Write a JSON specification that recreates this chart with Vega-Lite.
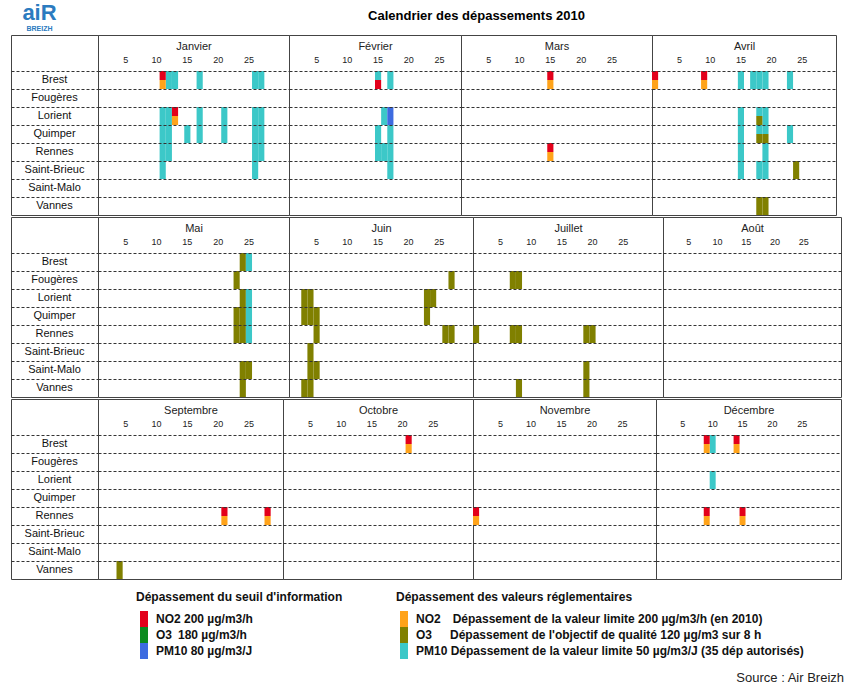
{
"$schema": "https://vega.github.io/schema/vega-lite/v6.json",
"background": "white",
"padding": {"left": 10, "top": 1, "right": 5, "bottom": 0},
"autosize": {"type": "pad"},
"title": {"text": "Calendrier des dépassements 2010", "anchor": "middle", "fontSize": 13, "fontWeight": "bold", "font": "Liberation Sans", "color": "#000", "offset": -21, "dx": 49},
"datasets": {
"cities": [{"c":"Brest"},{"c":"Fougères"},{"c":"Lorient"},{"c":"Quimper"},{"c":"Rennes"},{"c":"Saint-Brieuc"},{"c":"Saint-Malo"},{"c":"Vannes"}],
"cells": [
{"m":"Janvier","c":"Brest","d":11,"p":"NO2*","l":"info","h":"top"},
{"m":"Janvier","c":"Brest","d":11,"p":"NO2","l":"limite","h":"bottom"},
{"m":"Janvier","c":"Brest","d":12,"p":"PM10","l":"limite","h":"full"},
{"m":"Janvier","c":"Brest","d":13,"p":"PM10","l":"limite","h":"full"},
{"m":"Janvier","c":"Brest","d":17,"p":"PM10","l":"limite","h":"full"},
{"m":"Janvier","c":"Brest","d":26,"p":"PM10","l":"limite","h":"full"},
{"m":"Janvier","c":"Brest","d":27,"p":"PM10","l":"limite","h":"full"},
{"m":"Janvier","c":"Lorient","d":11,"p":"PM10","l":"limite","h":"full"},
{"m":"Janvier","c":"Lorient","d":12,"p":"PM10","l":"limite","h":"full"},
{"m":"Janvier","c":"Lorient","d":13,"p":"NO2*","l":"info","h":"top"},
{"m":"Janvier","c":"Lorient","d":13,"p":"NO2","l":"limite","h":"bottom"},
{"m":"Janvier","c":"Lorient","d":17,"p":"PM10","l":"limite","h":"full"},
{"m":"Janvier","c":"Lorient","d":21,"p":"PM10","l":"limite","h":"full"},
{"m":"Janvier","c":"Lorient","d":26,"p":"PM10","l":"limite","h":"full"},
{"m":"Janvier","c":"Lorient","d":27,"p":"PM10","l":"limite","h":"full"},
{"m":"Janvier","c":"Quimper","d":11,"p":"PM10","l":"limite","h":"full"},
{"m":"Janvier","c":"Quimper","d":12,"p":"PM10","l":"limite","h":"full"},
{"m":"Janvier","c":"Quimper","d":15,"p":"PM10","l":"limite","h":"full"},
{"m":"Janvier","c":"Quimper","d":17,"p":"PM10","l":"limite","h":"full"},
{"m":"Janvier","c":"Quimper","d":21,"p":"PM10","l":"limite","h":"full"},
{"m":"Janvier","c":"Quimper","d":26,"p":"PM10","l":"limite","h":"full"},
{"m":"Janvier","c":"Quimper","d":27,"p":"PM10","l":"limite","h":"full"},
{"m":"Janvier","c":"Rennes","d":11,"p":"PM10","l":"limite","h":"full"},
{"m":"Janvier","c":"Rennes","d":12,"p":"PM10","l":"limite","h":"full"},
{"m":"Janvier","c":"Rennes","d":26,"p":"PM10","l":"limite","h":"full"},
{"m":"Janvier","c":"Rennes","d":27,"p":"PM10","l":"limite","h":"full"},
{"m":"Janvier","c":"Saint-Brieuc","d":11,"p":"PM10","l":"limite","h":"full"},
{"m":"Janvier","c":"Saint-Brieuc","d":26,"p":"PM10","l":"limite","h":"full"},
{"m":"Février","c":"Brest","d":15,"p":"PM10","l":"limite","h":"top"},
{"m":"Février","c":"Brest","d":15,"p":"NO2*","l":"info","h":"bottom"},
{"m":"Février","c":"Brest","d":17,"p":"PM10","l":"limite","h":"full"},
{"m":"Février","c":"Lorient","d":16,"p":"PM10","l":"limite","h":"full"},
{"m":"Février","c":"Lorient","d":17,"p":"PM10*","l":"info","h":"top"},
{"m":"Février","c":"Lorient","d":17,"p":"PM10*","l":"info","h":"bottom"},
{"m":"Février","c":"Quimper","d":15,"p":"PM10","l":"limite","h":"full"},
{"m":"Février","c":"Quimper","d":17,"p":"PM10","l":"limite","h":"full"},
{"m":"Février","c":"Rennes","d":15,"p":"PM10","l":"limite","h":"full"},
{"m":"Février","c":"Rennes","d":16,"p":"PM10","l":"limite","h":"full"},
{"m":"Février","c":"Rennes","d":17,"p":"PM10","l":"limite","h":"full"},
{"m":"Février","c":"Saint-Brieuc","d":17,"p":"PM10","l":"limite","h":"full"},
{"m":"Mars","c":"Brest","d":15,"p":"NO2*","l":"info","h":"top"},
{"m":"Mars","c":"Brest","d":15,"p":"NO2","l":"limite","h":"bottom"},
{"m":"Mars","c":"Rennes","d":15,"p":"NO2*","l":"info","h":"top"},
{"m":"Mars","c":"Rennes","d":15,"p":"NO2","l":"limite","h":"bottom"},
{"m":"Avril","c":"Brest","d":1,"p":"NO2*","l":"info","h":"top"},
{"m":"Avril","c":"Brest","d":1,"p":"NO2","l":"limite","h":"bottom"},
{"m":"Avril","c":"Brest","d":9,"p":"NO2*","l":"info","h":"top"},
{"m":"Avril","c":"Brest","d":9,"p":"NO2","l":"limite","h":"bottom"},
{"m":"Avril","c":"Brest","d":15,"p":"PM10","l":"limite","h":"full"},
{"m":"Avril","c":"Brest","d":17,"p":"PM10","l":"limite","h":"full"},
{"m":"Avril","c":"Brest","d":18,"p":"PM10","l":"limite","h":"full"},
{"m":"Avril","c":"Brest","d":19,"p":"PM10","l":"limite","h":"full"},
{"m":"Avril","c":"Brest","d":23,"p":"PM10","l":"limite","h":"full"},
{"m":"Avril","c":"Lorient","d":15,"p":"PM10","l":"limite","h":"full"},
{"m":"Avril","c":"Lorient","d":18,"p":"PM10","l":"limite","h":"top"},
{"m":"Avril","c":"Lorient","d":18,"p":"O3","l":"limite","h":"bottom"},
{"m":"Avril","c":"Lorient","d":19,"p":"PM10","l":"limite","h":"full"},
{"m":"Avril","c":"Quimper","d":15,"p":"PM10","l":"limite","h":"full"},
{"m":"Avril","c":"Quimper","d":18,"p":"PM10","l":"limite","h":"top"},
{"m":"Avril","c":"Quimper","d":18,"p":"O3","l":"limite","h":"bottom"},
{"m":"Avril","c":"Quimper","d":19,"p":"PM10","l":"limite","h":"top"},
{"m":"Avril","c":"Quimper","d":19,"p":"O3","l":"limite","h":"bottom"},
{"m":"Avril","c":"Quimper","d":23,"p":"PM10","l":"limite","h":"full"},
{"m":"Avril","c":"Rennes","d":15,"p":"PM10","l":"limite","h":"full"},
{"m":"Avril","c":"Rennes","d":19,"p":"PM10","l":"limite","h":"full"},
{"m":"Avril","c":"Saint-Brieuc","d":15,"p":"PM10","l":"limite","h":"full"},
{"m":"Avril","c":"Saint-Brieuc","d":18,"p":"PM10","l":"limite","h":"full"},
{"m":"Avril","c":"Saint-Brieuc","d":19,"p":"PM10","l":"limite","h":"full"},
{"m":"Avril","c":"Saint-Brieuc","d":24,"p":"O3","l":"limite","h":"full"},
{"m":"Avril","c":"Vannes","d":18,"p":"O3","l":"limite","h":"full"},
{"m":"Avril","c":"Vannes","d":19,"p":"O3","l":"limite","h":"full"},
{"m":"Mai","c":"Brest","d":24,"p":"O3","l":"limite","h":"full"},
{"m":"Mai","c":"Brest","d":25,"p":"PM10","l":"limite","h":"full"},
{"m":"Mai","c":"Fougères","d":23,"p":"O3","l":"limite","h":"full"},
{"m":"Mai","c":"Lorient","d":24,"p":"O3","l":"limite","h":"full"},
{"m":"Mai","c":"Lorient","d":25,"p":"PM10","l":"limite","h":"full"},
{"m":"Mai","c":"Quimper","d":23,"p":"O3","l":"limite","h":"full"},
{"m":"Mai","c":"Quimper","d":24,"p":"O3","l":"limite","h":"full"},
{"m":"Mai","c":"Quimper","d":25,"p":"PM10","l":"limite","h":"full"},
{"m":"Mai","c":"Rennes","d":23,"p":"O3","l":"limite","h":"full"},
{"m":"Mai","c":"Rennes","d":24,"p":"O3","l":"limite","h":"full"},
{"m":"Mai","c":"Rennes","d":25,"p":"PM10","l":"limite","h":"full"},
{"m":"Mai","c":"Saint-Malo","d":24,"p":"O3","l":"limite","h":"full"},
{"m":"Mai","c":"Saint-Malo","d":25,"p":"O3","l":"limite","h":"full"},
{"m":"Mai","c":"Vannes","d":24,"p":"O3","l":"limite","h":"full"},
{"m":"Juin","c":"Fougères","d":27,"p":"O3","l":"limite","h":"full"},
{"m":"Juin","c":"Lorient","d":3,"p":"O3","l":"limite","h":"full"},
{"m":"Juin","c":"Lorient","d":4,"p":"O3","l":"limite","h":"full"},
{"m":"Juin","c":"Lorient","d":23,"p":"O3","l":"limite","h":"full"},
{"m":"Juin","c":"Lorient","d":24,"p":"O3","l":"limite","h":"full"},
{"m":"Juin","c":"Quimper","d":3,"p":"O3","l":"limite","h":"full"},
{"m":"Juin","c":"Quimper","d":4,"p":"O3","l":"limite","h":"full"},
{"m":"Juin","c":"Quimper","d":5,"p":"O3","l":"limite","h":"full"},
{"m":"Juin","c":"Quimper","d":23,"p":"O3","l":"limite","h":"full"},
{"m":"Juin","c":"Rennes","d":5,"p":"O3","l":"limite","h":"full"},
{"m":"Juin","c":"Rennes","d":26,"p":"O3","l":"limite","h":"full"},
{"m":"Juin","c":"Rennes","d":27,"p":"O3","l":"limite","h":"full"},
{"m":"Juin","c":"Saint-Brieuc","d":4,"p":"O3","l":"limite","h":"full"},
{"m":"Juin","c":"Saint-Malo","d":4,"p":"O3","l":"limite","h":"full"},
{"m":"Juin","c":"Saint-Malo","d":5,"p":"O3","l":"limite","h":"full"},
{"m":"Juin","c":"Vannes","d":3,"p":"O3","l":"limite","h":"full"},
{"m":"Juin","c":"Vannes","d":4,"p":"O3","l":"limite","h":"full"},
{"m":"Juillet","c":"Fougères","d":7,"p":"O3","l":"limite","h":"full"},
{"m":"Juillet","c":"Fougères","d":8,"p":"O3","l":"limite","h":"full"},
{"m":"Juillet","c":"Rennes","d":1,"p":"O3","l":"limite","h":"full"},
{"m":"Juillet","c":"Rennes","d":7,"p":"O3","l":"limite","h":"full"},
{"m":"Juillet","c":"Rennes","d":8,"p":"O3","l":"limite","h":"full"},
{"m":"Juillet","c":"Rennes","d":19,"p":"O3","l":"limite","h":"full"},
{"m":"Juillet","c":"Rennes","d":20,"p":"O3","l":"limite","h":"full"},
{"m":"Juillet","c":"Saint-Malo","d":19,"p":"O3","l":"limite","h":"full"},
{"m":"Juillet","c":"Vannes","d":8,"p":"O3","l":"limite","h":"full"},
{"m":"Juillet","c":"Vannes","d":19,"p":"O3","l":"limite","h":"full"},
{"m":"Septembre","c":"Rennes","d":21,"p":"NO2*","l":"info","h":"top"},
{"m":"Septembre","c":"Rennes","d":21,"p":"NO2","l":"limite","h":"bottom"},
{"m":"Septembre","c":"Rennes","d":28,"p":"NO2*","l":"info","h":"top"},
{"m":"Septembre","c":"Rennes","d":28,"p":"NO2","l":"limite","h":"bottom"},
{"m":"Septembre","c":"Vannes","d":4,"p":"O3","l":"limite","h":"full"},
{"m":"Octobre","c":"Brest","d":21,"p":"NO2*","l":"info","h":"top"},
{"m":"Octobre","c":"Brest","d":21,"p":"NO2","l":"limite","h":"bottom"},
{"m":"Novembre","c":"Rennes","d":1,"p":"NO2*","l":"info","h":"top"},
{"m":"Novembre","c":"Rennes","d":1,"p":"NO2","l":"limite","h":"bottom"},
{"m":"Décembre","c":"Brest","d":9,"p":"NO2*","l":"info","h":"top"},
{"m":"Décembre","c":"Brest","d":9,"p":"NO2","l":"limite","h":"bottom"},
{"m":"Décembre","c":"Brest","d":10,"p":"PM10","l":"limite","h":"full"},
{"m":"Décembre","c":"Brest","d":14,"p":"NO2*","l":"info","h":"top"},
{"m":"Décembre","c":"Brest","d":14,"p":"NO2","l":"limite","h":"bottom"},
{"m":"Décembre","c":"Lorient","d":10,"p":"PM10","l":"limite","h":"full"},
{"m":"Décembre","c":"Rennes","d":9,"p":"NO2*","l":"info","h":"top"},
{"m":"Décembre","c":"Rennes","d":9,"p":"NO2","l":"limite","h":"bottom"},
{"m":"Décembre","c":"Rennes","d":15,"p":"NO2*","l":"info","h":"top"},
{"m":"Décembre","c":"Rennes","d":15,"p":"NO2","l":"limite","h":"bottom"}
]
},
"spacing": 0,
"vconcat": [
{"hconcat": [
 {"width": 87, "height": 180, "data": {"name": "cities"},
  "title": {"text": "aiR", "subtitle": "BREIZH", "anchor": "middle", "frame": "group", "fontSize": 22, "fontWeight": "bold", "font": "Liberation Sans", "color": "#2B7BC0", "subtitleFontSize": 7, "subtitleColor": "#2B7BC0", "subtitleFont": "Liberation Sans", "subtitleFontWeight": "bold", "subtitlePadding": 0, "offset": 2, "dx": -15},
  "mark": {"type": "text", "fontSize": 11, "font": "Liberation Sans", "color": "#111"},
  "encoding": {
   "y": {"field": "c", "type": "nominal", "scale": {"type": "band", "domain": ["h1","h2","Brest","Fougères","Lorient","Quimper","Rennes","Saint-Brieuc","Saint-Malo","Vannes"], "paddingInner": 0, "paddingOuter": 0}, "axis": {"orient": "left", "values": ["Brest","Fougères","Lorient","Quimper","Rennes","Saint-Brieuc","Saint-Malo","Vannes"], "bandPosition": 0, "grid": true, "gridDash": [3,2], "gridColor": "#333", "gridWidth": 1, "labels": false, "ticks": false, "domain": false, "title": null, "zindex": 1}},
   "text": {"field": "c"}
  }},
 {"width": 191, "height": 180, "data": {"name": "cells"}, "transform": [{"filter": "datum.m == 'Janvier'"}],
  "encoding": {
   "x": {"field": "d", "type": "ordinal", "scale": {"type": "band", "domain": [1,2,3,4,5,6,7,8,9,10,11,12,13,14,15,16,17,18,19,20,21,22,23,24,25,26,27,28,29,30,31], "paddingInner": 0, "paddingOuter": 0}, "axis": {"orient": "top", "offset": -36, "values": [5,10,15,20,25], "labelAngle": 0, "labelFontSize": 9, "labelPadding": 7, "domain": false, "ticks": false, "tickSize": 0, "grid": false, "title": "Janvier", "titleFontSize": 11, "titleFontWeight": "normal", "titlePadding": 4}},
   "y": {"field": "c", "type": "nominal", "scale": {"type": "band", "domain": ["h1","h2","Brest","Fougères","Lorient","Quimper","Rennes","Saint-Brieuc","Saint-Malo","Vannes"], "paddingInner": 0, "paddingOuter": 0}, "axis": {"orient": "left", "values": ["Brest","Fougères","Lorient","Quimper","Rennes","Saint-Brieuc","Saint-Malo","Vannes"], "bandPosition": 0, "grid": true, "gridDash": [3,2], "gridColor": "#333", "gridWidth": 1, "labels": false, "ticks": false, "domain": false, "title": null, "zindex": 1}}
  },
  "layer": [
   {"transform": [{"filter": "datum.h == 'full'"}], "mark": "rect", "encoding": {"fill": {"field": "p", "type": "nominal", "scale": {"domain": ["NO2","O3","PM10"], "range": ["#FFA31A","#808000","#3CC8C8"]}, "legend": {"title": "Dépassement des valeurs réglementaires", "orient": "none", "legendX": 385, "legendY": 557, "direction": "vertical", "symbolType": "M-0.5,-1V1H0.5V-1Z", "symbolSize": 256, "symbolStrokeWidth": 0, "labelExpr": "datum.label == 'NO2' ? 'NO2\u2002\u2002Dépassement de la valeur limite 200 µg/m3/h (en 2010)' : datum.label == 'O3' ? \"O3\u2002\u2002\u2002Dépassement de l'objectif de qualité 120 µg/m3 sur 8 h\" : 'PM10 Dépassement de la valeur limite 50 µg/m3/J (35 dép autorisés)'"}}}},
   {"transform": [{"filter": "datum.h != 'full' && datum.l == 'limite'"}], "mark": "rect", "encoding": {"yOffset": {"field": "h", "type": "nominal", "scale": {"domain": ["top","bottom"], "paddingInner": 0, "paddingOuter": 0}}, "fill": {"field": "p", "type": "nominal", "scale": {"domain": ["NO2","O3","PM10"], "range": ["#FFA31A","#808000","#3CC8C8"]}, "legend": {"title": "Dépassement des valeurs réglementaires", "orient": "none", "legendX": 385, "legendY": 557, "direction": "vertical", "symbolType": "M-0.5,-1V1H0.5V-1Z", "symbolSize": 256, "symbolStrokeWidth": 0, "labelExpr": "datum.label == 'NO2' ? 'NO2\u2002\u2002Dépassement de la valeur limite 200 µg/m3/h (en 2010)' : datum.label == 'O3' ? \"O3\u2002\u2002\u2002Dépassement de l'objectif de qualité 120 µg/m3 sur 8 h\" : 'PM10 Dépassement de la valeur limite 50 µg/m3/J (35 dép autorisés)'"}}}},
   {"transform": [{"filter": "datum.h != 'full' && datum.l == 'info'"}], "mark": "rect", "encoding": {"yOffset": {"field": "h", "type": "nominal", "scale": {"domain": ["top","bottom"], "paddingInner": 0, "paddingOuter": 0}}, "color": {"field": "p", "type": "nominal", "scale": {"domain": ["NO2*","O3*","PM10*"], "range": ["#E3001B","#0B8A1F","#3D6BE0"]}, "legend": {"title": "Dépassement du seuil d'information", "orient": "none", "legendX": 125, "legendY": 557, "direction": "vertical", "symbolType": "M-0.5,-1V1H0.5V-1Z", "symbolSize": 256, "symbolStrokeWidth": 0, "labelExpr": "datum.label == 'NO2*' ? 'NO2 200 µg/m3/h' : datum.label == 'O3*' ? 'O3\u2002180 µg/m3/h' : 'PM10 80 µg/m3/J'"}}}}
  ]},
 {"width": 172, "height": 180, "data": {"name": "cells"}, "transform": [{"filter": "datum.m == 'Février'"}],
  "encoding": {
   "x": {"field": "d", "type": "ordinal", "scale": {"type": "band", "domain": [1,2,3,4,5,6,7,8,9,10,11,12,13,14,15,16,17,18,19,20,21,22,23,24,25,26,27,28], "paddingInner": 0, "paddingOuter": 0}, "axis": {"orient": "top", "offset": -36, "values": [5,10,15,20,25], "labelAngle": 0, "labelFontSize": 9, "labelPadding": 7, "domain": false, "ticks": false, "tickSize": 0, "grid": false, "title": "Février", "titleFontSize": 11, "titleFontWeight": "normal", "titlePadding": 4}},
   "y": {"field": "c", "type": "nominal", "scale": {"type": "band", "domain": ["h1","h2","Brest","Fougères","Lorient","Quimper","Rennes","Saint-Brieuc","Saint-Malo","Vannes"], "paddingInner": 0, "paddingOuter": 0}, "axis": {"orient": "left", "values": ["Brest","Fougères","Lorient","Quimper","Rennes","Saint-Brieuc","Saint-Malo","Vannes"], "bandPosition": 0, "grid": true, "gridDash": [3,2], "gridColor": "#333", "gridWidth": 1, "labels": false, "ticks": false, "domain": false, "title": null, "zindex": 1}}
  },
  "layer": [
   {"transform": [{"filter": "datum.h == 'full'"}], "mark": "rect", "encoding": {"fill": {"field": "p", "type": "nominal", "scale": {"domain": ["NO2","O3","PM10"], "range": ["#FFA31A","#808000","#3CC8C8"]}, "legend": {"title": "Dépassement des valeurs réglementaires", "orient": "none", "legendX": 385, "legendY": 557, "direction": "vertical", "symbolType": "M-0.5,-1V1H0.5V-1Z", "symbolSize": 256, "symbolStrokeWidth": 0, "labelExpr": "datum.label == 'NO2' ? 'NO2\u2002\u2002Dépassement de la valeur limite 200 µg/m3/h (en 2010)' : datum.label == 'O3' ? \"O3\u2002\u2002\u2002Dépassement de l'objectif de qualité 120 µg/m3 sur 8 h\" : 'PM10 Dépassement de la valeur limite 50 µg/m3/J (35 dép autorisés)'"}}}},
   {"transform": [{"filter": "datum.h != 'full' && datum.l == 'limite'"}], "mark": "rect", "encoding": {"yOffset": {"field": "h", "type": "nominal", "scale": {"domain": ["top","bottom"], "paddingInner": 0, "paddingOuter": 0}}, "fill": {"field": "p", "type": "nominal", "scale": {"domain": ["NO2","O3","PM10"], "range": ["#FFA31A","#808000","#3CC8C8"]}, "legend": {"title": "Dépassement des valeurs réglementaires", "orient": "none", "legendX": 385, "legendY": 557, "direction": "vertical", "symbolType": "M-0.5,-1V1H0.5V-1Z", "symbolSize": 256, "symbolStrokeWidth": 0, "labelExpr": "datum.label == 'NO2' ? 'NO2\u2002\u2002Dépassement de la valeur limite 200 µg/m3/h (en 2010)' : datum.label == 'O3' ? \"O3\u2002\u2002\u2002Dépassement de l'objectif de qualité 120 µg/m3 sur 8 h\" : 'PM10 Dépassement de la valeur limite 50 µg/m3/J (35 dép autorisés)'"}}}},
   {"transform": [{"filter": "datum.h != 'full' && datum.l == 'info'"}], "mark": "rect", "encoding": {"yOffset": {"field": "h", "type": "nominal", "scale": {"domain": ["top","bottom"], "paddingInner": 0, "paddingOuter": 0}}, "color": {"field": "p", "type": "nominal", "scale": {"domain": ["NO2*","O3*","PM10*"], "range": ["#E3001B","#0B8A1F","#3D6BE0"]}, "legend": {"title": "Dépassement du seuil d'information", "orient": "none", "legendX": 125, "legendY": 557, "direction": "vertical", "symbolType": "M-0.5,-1V1H0.5V-1Z", "symbolSize": 256, "symbolStrokeWidth": 0, "labelExpr": "datum.label == 'NO2*' ? 'NO2 200 µg/m3/h' : datum.label == 'O3*' ? 'O3\u2002180 µg/m3/h' : 'PM10 80 µg/m3/J'"}}}}
  ]},
 {"width": 191, "height": 180, "data": {"name": "cells"}, "transform": [{"filter": "datum.m == 'Mars'"}],
  "encoding": {
   "x": {"field": "d", "type": "ordinal", "scale": {"type": "band", "domain": [1,2,3,4,5,6,7,8,9,10,11,12,13,14,15,16,17,18,19,20,21,22,23,24,25,26,27,28,29,30,31], "paddingInner": 0, "paddingOuter": 0}, "axis": {"orient": "top", "offset": -36, "values": [5,10,15,20,25], "labelAngle": 0, "labelFontSize": 9, "labelPadding": 7, "domain": false, "ticks": false, "tickSize": 0, "grid": false, "title": "Mars", "titleFontSize": 11, "titleFontWeight": "normal", "titlePadding": 4}},
   "y": {"field": "c", "type": "nominal", "scale": {"type": "band", "domain": ["h1","h2","Brest","Fougères","Lorient","Quimper","Rennes","Saint-Brieuc","Saint-Malo","Vannes"], "paddingInner": 0, "paddingOuter": 0}, "axis": {"orient": "left", "values": ["Brest","Fougères","Lorient","Quimper","Rennes","Saint-Brieuc","Saint-Malo","Vannes"], "bandPosition": 0, "grid": true, "gridDash": [3,2], "gridColor": "#333", "gridWidth": 1, "labels": false, "ticks": false, "domain": false, "title": null, "zindex": 1}}
  },
  "layer": [
   {"transform": [{"filter": "datum.h != 'full' && datum.l == 'limite'"}], "mark": "rect", "encoding": {"yOffset": {"field": "h", "type": "nominal", "scale": {"domain": ["top","bottom"], "paddingInner": 0, "paddingOuter": 0}}, "fill": {"field": "p", "type": "nominal", "scale": {"domain": ["NO2","O3","PM10"], "range": ["#FFA31A","#808000","#3CC8C8"]}, "legend": {"title": "Dépassement des valeurs réglementaires", "orient": "none", "legendX": 385, "legendY": 557, "direction": "vertical", "symbolType": "M-0.5,-1V1H0.5V-1Z", "symbolSize": 256, "symbolStrokeWidth": 0, "labelExpr": "datum.label == 'NO2' ? 'NO2\u2002\u2002Dépassement de la valeur limite 200 µg/m3/h (en 2010)' : datum.label == 'O3' ? \"O3\u2002\u2002\u2002Dépassement de l'objectif de qualité 120 µg/m3 sur 8 h\" : 'PM10 Dépassement de la valeur limite 50 µg/m3/J (35 dép autorisés)'"}}}},
   {"transform": [{"filter": "datum.h != 'full' && datum.l == 'info'"}], "mark": "rect", "encoding": {"yOffset": {"field": "h", "type": "nominal", "scale": {"domain": ["top","bottom"], "paddingInner": 0, "paddingOuter": 0}}, "color": {"field": "p", "type": "nominal", "scale": {"domain": ["NO2*","O3*","PM10*"], "range": ["#E3001B","#0B8A1F","#3D6BE0"]}, "legend": {"title": "Dépassement du seuil d'information", "orient": "none", "legendX": 125, "legendY": 557, "direction": "vertical", "symbolType": "M-0.5,-1V1H0.5V-1Z", "symbolSize": 256, "symbolStrokeWidth": 0, "labelExpr": "datum.label == 'NO2*' ? 'NO2 200 µg/m3/h' : datum.label == 'O3*' ? 'O3\u2002180 µg/m3/h' : 'PM10 80 µg/m3/J'"}}}}
  ]},
 {"width": 184, "height": 180, "data": {"name": "cells"}, "transform": [{"filter": "datum.m == 'Avril'"}],
  "encoding": {
   "x": {"field": "d", "type": "ordinal", "scale": {"type": "band", "domain": [1,2,3,4,5,6,7,8,9,10,11,12,13,14,15,16,17,18,19,20,21,22,23,24,25,26,27,28,29,30], "paddingInner": 0, "paddingOuter": 0}, "axis": {"orient": "top", "offset": -36, "values": [5,10,15,20,25], "labelAngle": 0, "labelFontSize": 9, "labelPadding": 7, "domain": false, "ticks": false, "tickSize": 0, "grid": false, "title": "Avril", "titleFontSize": 11, "titleFontWeight": "normal", "titlePadding": 4}},
   "y": {"field": "c", "type": "nominal", "scale": {"type": "band", "domain": ["h1","h2","Brest","Fougères","Lorient","Quimper","Rennes","Saint-Brieuc","Saint-Malo","Vannes"], "paddingInner": 0, "paddingOuter": 0}, "axis": {"orient": "left", "values": ["Brest","Fougères","Lorient","Quimper","Rennes","Saint-Brieuc","Saint-Malo","Vannes"], "bandPosition": 0, "grid": true, "gridDash": [3,2], "gridColor": "#333", "gridWidth": 1, "labels": false, "ticks": false, "domain": false, "title": null, "zindex": 1}}
  },
  "layer": [
   {"transform": [{"filter": "datum.h == 'full'"}], "mark": "rect", "encoding": {"fill": {"field": "p", "type": "nominal", "scale": {"domain": ["NO2","O3","PM10"], "range": ["#FFA31A","#808000","#3CC8C8"]}, "legend": {"title": "Dépassement des valeurs réglementaires", "orient": "none", "legendX": 385, "legendY": 557, "direction": "vertical", "symbolType": "M-0.5,-1V1H0.5V-1Z", "symbolSize": 256, "symbolStrokeWidth": 0, "labelExpr": "datum.label == 'NO2' ? 'NO2\u2002\u2002Dépassement de la valeur limite 200 µg/m3/h (en 2010)' : datum.label == 'O3' ? \"O3\u2002\u2002\u2002Dépassement de l'objectif de qualité 120 µg/m3 sur 8 h\" : 'PM10 Dépassement de la valeur limite 50 µg/m3/J (35 dép autorisés)'"}}}},
   {"transform": [{"filter": "datum.h != 'full' && datum.l == 'limite'"}], "mark": "rect", "encoding": {"yOffset": {"field": "h", "type": "nominal", "scale": {"domain": ["top","bottom"], "paddingInner": 0, "paddingOuter": 0}}, "fill": {"field": "p", "type": "nominal", "scale": {"domain": ["NO2","O3","PM10"], "range": ["#FFA31A","#808000","#3CC8C8"]}, "legend": {"title": "Dépassement des valeurs réglementaires", "orient": "none", "legendX": 385, "legendY": 557, "direction": "vertical", "symbolType": "M-0.5,-1V1H0.5V-1Z", "symbolSize": 256, "symbolStrokeWidth": 0, "labelExpr": "datum.label == 'NO2' ? 'NO2\u2002\u2002Dépassement de la valeur limite 200 µg/m3/h (en 2010)' : datum.label == 'O3' ? \"O3\u2002\u2002\u2002Dépassement de l'objectif de qualité 120 µg/m3 sur 8 h\" : 'PM10 Dépassement de la valeur limite 50 µg/m3/J (35 dép autorisés)'"}}}},
   {"transform": [{"filter": "datum.h != 'full' && datum.l == 'info'"}], "mark": "rect", "encoding": {"yOffset": {"field": "h", "type": "nominal", "scale": {"domain": ["top","bottom"], "paddingInner": 0, "paddingOuter": 0}}, "color": {"field": "p", "type": "nominal", "scale": {"domain": ["NO2*","O3*","PM10*"], "range": ["#E3001B","#0B8A1F","#3D6BE0"]}, "legend": {"title": "Dépassement du seuil d'information", "orient": "none", "legendX": 125, "legendY": 557, "direction": "vertical", "symbolType": "M-0.5,-1V1H0.5V-1Z", "symbolSize": 256, "symbolStrokeWidth": 0, "labelExpr": "datum.label == 'NO2*' ? 'NO2 200 µg/m3/h' : datum.label == 'O3*' ? 'O3\u2002180 µg/m3/h' : 'PM10 80 µg/m3/J'"}}}}
  ]}
], "spacing": 0, "bounds": "flush"},
{"hconcat": [
 {"width": 87, "height": 180, "data": {"name": "cities"},
  "mark": {"type": "text", "fontSize": 11, "font": "Liberation Sans", "color": "#111"},
  "encoding": {
   "y": {"field": "c", "type": "nominal", "scale": {"type": "band", "domain": ["h1","h2","Brest","Fougères","Lorient","Quimper","Rennes","Saint-Brieuc","Saint-Malo","Vannes"], "paddingInner": 0, "paddingOuter": 0}, "axis": {"orient": "left", "values": ["Brest","Fougères","Lorient","Quimper","Rennes","Saint-Brieuc","Saint-Malo","Vannes"], "bandPosition": 0, "grid": true, "gridDash": [3,2], "gridColor": "#333", "gridWidth": 1, "labels": false, "ticks": false, "domain": false, "title": null, "zindex": 1}},
   "text": {"field": "c"}
  }},
 {"width": 191, "height": 180, "data": {"name": "cells"}, "transform": [{"filter": "datum.m == 'Mai'"}],
  "encoding": {
   "x": {"field": "d", "type": "ordinal", "scale": {"type": "band", "domain": [1,2,3,4,5,6,7,8,9,10,11,12,13,14,15,16,17,18,19,20,21,22,23,24,25,26,27,28,29,30,31], "paddingInner": 0, "paddingOuter": 0}, "axis": {"orient": "top", "offset": -36, "values": [5,10,15,20,25], "labelAngle": 0, "labelFontSize": 9, "labelPadding": 7, "domain": false, "ticks": false, "tickSize": 0, "grid": false, "title": "Mai", "titleFontSize": 11, "titleFontWeight": "normal", "titlePadding": 4}},
   "y": {"field": "c", "type": "nominal", "scale": {"type": "band", "domain": ["h1","h2","Brest","Fougères","Lorient","Quimper","Rennes","Saint-Brieuc","Saint-Malo","Vannes"], "paddingInner": 0, "paddingOuter": 0}, "axis": {"orient": "left", "values": ["Brest","Fougères","Lorient","Quimper","Rennes","Saint-Brieuc","Saint-Malo","Vannes"], "bandPosition": 0, "grid": true, "gridDash": [3,2], "gridColor": "#333", "gridWidth": 1, "labels": false, "ticks": false, "domain": false, "title": null, "zindex": 1}}
  },
  "layer": [
   {"transform": [{"filter": "datum.h == 'full'"}], "mark": "rect", "encoding": {"fill": {"field": "p", "type": "nominal", "scale": {"domain": ["NO2","O3","PM10"], "range": ["#FFA31A","#808000","#3CC8C8"]}, "legend": {"title": "Dépassement des valeurs réglementaires", "orient": "none", "legendX": 385, "legendY": 557, "direction": "vertical", "symbolType": "M-0.5,-1V1H0.5V-1Z", "symbolSize": 256, "symbolStrokeWidth": 0, "labelExpr": "datum.label == 'NO2' ? 'NO2\u2002\u2002Dépassement de la valeur limite 200 µg/m3/h (en 2010)' : datum.label == 'O3' ? \"O3\u2002\u2002\u2002Dépassement de l'objectif de qualité 120 µg/m3 sur 8 h\" : 'PM10 Dépassement de la valeur limite 50 µg/m3/J (35 dép autorisés)'"}}}}
  ]},
 {"width": 184, "height": 180, "data": {"name": "cells"}, "transform": [{"filter": "datum.m == 'Juin'"}],
  "encoding": {
   "x": {"field": "d", "type": "ordinal", "scale": {"type": "band", "domain": [1,2,3,4,5,6,7,8,9,10,11,12,13,14,15,16,17,18,19,20,21,22,23,24,25,26,27,28,29,30], "paddingInner": 0, "paddingOuter": 0}, "axis": {"orient": "top", "offset": -36, "values": [5,10,15,20,25], "labelAngle": 0, "labelFontSize": 9, "labelPadding": 7, "domain": false, "ticks": false, "tickSize": 0, "grid": false, "title": "Juin", "titleFontSize": 11, "titleFontWeight": "normal", "titlePadding": 4}},
   "y": {"field": "c", "type": "nominal", "scale": {"type": "band", "domain": ["h1","h2","Brest","Fougères","Lorient","Quimper","Rennes","Saint-Brieuc","Saint-Malo","Vannes"], "paddingInner": 0, "paddingOuter": 0}, "axis": {"orient": "left", "values": ["Brest","Fougères","Lorient","Quimper","Rennes","Saint-Brieuc","Saint-Malo","Vannes"], "bandPosition": 0, "grid": true, "gridDash": [3,2], "gridColor": "#333", "gridWidth": 1, "labels": false, "ticks": false, "domain": false, "title": null, "zindex": 1}}
  },
  "layer": [
   {"transform": [{"filter": "datum.h == 'full'"}], "mark": "rect", "encoding": {"fill": {"field": "p", "type": "nominal", "scale": {"domain": ["NO2","O3","PM10"], "range": ["#FFA31A","#808000","#3CC8C8"]}, "legend": {"title": "Dépassement des valeurs réglementaires", "orient": "none", "legendX": 385, "legendY": 557, "direction": "vertical", "symbolType": "M-0.5,-1V1H0.5V-1Z", "symbolSize": 256, "symbolStrokeWidth": 0, "labelExpr": "datum.label == 'NO2' ? 'NO2\u2002\u2002Dépassement de la valeur limite 200 µg/m3/h (en 2010)' : datum.label == 'O3' ? \"O3\u2002\u2002\u2002Dépassement de l'objectif de qualité 120 µg/m3 sur 8 h\" : 'PM10 Dépassement de la valeur limite 50 µg/m3/J (35 dép autorisés)'"}}}}
  ]},
 {"width": 190, "height": 180, "data": {"name": "cells"}, "transform": [{"filter": "datum.m == 'Juillet'"}],
  "encoding": {
   "x": {"field": "d", "type": "ordinal", "scale": {"type": "band", "domain": [1,2,3,4,5,6,7,8,9,10,11,12,13,14,15,16,17,18,19,20,21,22,23,24,25,26,27,28,29,30,31], "paddingInner": 0, "paddingOuter": 0}, "axis": {"orient": "top", "offset": -36, "values": [5,10,15,20,25], "labelAngle": 0, "labelFontSize": 9, "labelPadding": 7, "domain": false, "ticks": false, "tickSize": 0, "grid": false, "title": "Juillet", "titleFontSize": 11, "titleFontWeight": "normal", "titlePadding": 4}},
   "y": {"field": "c", "type": "nominal", "scale": {"type": "band", "domain": ["h1","h2","Brest","Fougères","Lorient","Quimper","Rennes","Saint-Brieuc","Saint-Malo","Vannes"], "paddingInner": 0, "paddingOuter": 0}, "axis": {"orient": "left", "values": ["Brest","Fougères","Lorient","Quimper","Rennes","Saint-Brieuc","Saint-Malo","Vannes"], "bandPosition": 0, "grid": true, "gridDash": [3,2], "gridColor": "#333", "gridWidth": 1, "labels": false, "ticks": false, "domain": false, "title": null, "zindex": 1}}
  },
  "layer": [
   {"transform": [{"filter": "datum.h == 'full'"}], "mark": "rect", "encoding": {"fill": {"field": "p", "type": "nominal", "scale": {"domain": ["NO2","O3","PM10"], "range": ["#FFA31A","#808000","#3CC8C8"]}, "legend": {"title": "Dépassement des valeurs réglementaires", "orient": "none", "legendX": 385, "legendY": 557, "direction": "vertical", "symbolType": "M-0.5,-1V1H0.5V-1Z", "symbolSize": 256, "symbolStrokeWidth": 0, "labelExpr": "datum.label == 'NO2' ? 'NO2\u2002\u2002Dépassement de la valeur limite 200 µg/m3/h (en 2010)' : datum.label == 'O3' ? \"O3\u2002\u2002\u2002Dépassement de l'objectif de qualité 120 µg/m3 sur 8 h\" : 'PM10 Dépassement de la valeur limite 50 µg/m3/J (35 dép autorisés)'"}}}}
  ]},
 {"width": 178, "height": 180, "data": {"name": "cells"}, "transform": [{"filter": "datum.m == 'Août'"}],
  "encoding": {
   "x": {"field": "d", "type": "ordinal", "scale": {"type": "band", "domain": [1,2,3,4,5,6,7,8,9,10,11,12,13,14,15,16,17,18,19,20,21,22,23,24,25,26,27,28,29,30,31], "paddingInner": 0, "paddingOuter": 0}, "axis": {"orient": "top", "offset": -36, "values": [5,10,15,20,25], "labelAngle": 0, "labelFontSize": 9, "labelPadding": 7, "domain": false, "ticks": false, "tickSize": 0, "grid": false, "title": "Août", "titleFontSize": 11, "titleFontWeight": "normal", "titlePadding": 4}},
   "y": {"field": "c", "type": "nominal", "scale": {"type": "band", "domain": ["h1","h2","Brest","Fougères","Lorient","Quimper","Rennes","Saint-Brieuc","Saint-Malo","Vannes"], "paddingInner": 0, "paddingOuter": 0}, "axis": {"orient": "left", "values": ["Brest","Fougères","Lorient","Quimper","Rennes","Saint-Brieuc","Saint-Malo","Vannes"], "bandPosition": 0, "grid": true, "gridDash": [3,2], "gridColor": "#333", "gridWidth": 1, "labels": false, "ticks": false, "domain": false, "title": null, "zindex": 1}}
  },
  "layer": [
   {"transform": [{"filter": "datum.h == 'full'"}], "mark": "rect", "encoding": {"fill": {"field": "p", "type": "nominal", "scale": {"domain": ["NO2","O3","PM10"], "range": ["#FFA31A","#808000","#3CC8C8"]}, "legend": {"title": "Dépassement des valeurs réglementaires", "orient": "none", "legendX": 385, "legendY": 557, "direction": "vertical", "symbolType": "M-0.5,-1V1H0.5V-1Z", "symbolSize": 256, "symbolStrokeWidth": 0, "labelExpr": "datum.label == 'NO2' ? 'NO2\u2002\u2002Dépassement de la valeur limite 200 µg/m3/h (en 2010)' : datum.label == 'O3' ? \"O3\u2002\u2002\u2002Dépassement de l'objectif de qualité 120 µg/m3 sur 8 h\" : 'PM10 Dépassement de la valeur limite 50 µg/m3/J (35 dép autorisés)'"}}}}
  ]}
], "spacing": 0, "bounds": "flush"},
{"hconcat": [
 {"width": 87, "height": 180, "data": {"name": "cities"},
  "mark": {"type": "text", "fontSize": 11, "font": "Liberation Sans", "color": "#111"},
  "encoding": {
   "y": {"field": "c", "type": "nominal", "scale": {"type": "band", "domain": ["h1","h2","Brest","Fougères","Lorient","Quimper","Rennes","Saint-Brieuc","Saint-Malo","Vannes"], "paddingInner": 0, "paddingOuter": 0}, "axis": {"orient": "left", "values": ["Brest","Fougères","Lorient","Quimper","Rennes","Saint-Brieuc","Saint-Malo","Vannes"], "bandPosition": 0, "grid": true, "gridDash": [3,2], "gridColor": "#333", "gridWidth": 1, "labels": false, "ticks": false, "domain": false, "title": null, "zindex": 1}},
   "text": {"field": "c"}
  }},
 {"width": 185, "height": 180, "data": {"name": "cells"}, "transform": [{"filter": "datum.m == 'Septembre'"}],
  "encoding": {
   "x": {"field": "d", "type": "ordinal", "scale": {"type": "band", "domain": [1,2,3,4,5,6,7,8,9,10,11,12,13,14,15,16,17,18,19,20,21,22,23,24,25,26,27,28,29,30], "paddingInner": 0, "paddingOuter": 0}, "axis": {"orient": "top", "offset": -36, "values": [5,10,15,20,25], "labelAngle": 0, "labelFontSize": 9, "labelPadding": 7, "domain": false, "ticks": false, "tickSize": 0, "grid": false, "title": "Septembre", "titleFontSize": 11, "titleFontWeight": "normal", "titlePadding": 4}},
   "y": {"field": "c", "type": "nominal", "scale": {"type": "band", "domain": ["h1","h2","Brest","Fougères","Lorient","Quimper","Rennes","Saint-Brieuc","Saint-Malo","Vannes"], "paddingInner": 0, "paddingOuter": 0}, "axis": {"orient": "left", "values": ["Brest","Fougères","Lorient","Quimper","Rennes","Saint-Brieuc","Saint-Malo","Vannes"], "bandPosition": 0, "grid": true, "gridDash": [3,2], "gridColor": "#333", "gridWidth": 1, "labels": false, "ticks": false, "domain": false, "title": null, "zindex": 1}}
  },
  "layer": [
   {"transform": [{"filter": "datum.h == 'full'"}], "mark": "rect", "encoding": {"fill": {"field": "p", "type": "nominal", "scale": {"domain": ["NO2","O3","PM10"], "range": ["#FFA31A","#808000","#3CC8C8"]}, "legend": {"title": "Dépassement des valeurs réglementaires", "orient": "none", "legendX": 385, "legendY": 557, "direction": "vertical", "symbolType": "M-0.5,-1V1H0.5V-1Z", "symbolSize": 256, "symbolStrokeWidth": 0, "labelExpr": "datum.label == 'NO2' ? 'NO2\u2002\u2002Dépassement de la valeur limite 200 µg/m3/h (en 2010)' : datum.label == 'O3' ? \"O3\u2002\u2002\u2002Dépassement de l'objectif de qualité 120 µg/m3 sur 8 h\" : 'PM10 Dépassement de la valeur limite 50 µg/m3/J (35 dép autorisés)'"}}}},
   {"transform": [{"filter": "datum.h != 'full' && datum.l == 'limite'"}], "mark": "rect", "encoding": {"yOffset": {"field": "h", "type": "nominal", "scale": {"domain": ["top","bottom"], "paddingInner": 0, "paddingOuter": 0}}, "fill": {"field": "p", "type": "nominal", "scale": {"domain": ["NO2","O3","PM10"], "range": ["#FFA31A","#808000","#3CC8C8"]}, "legend": {"title": "Dépassement des valeurs réglementaires", "orient": "none", "legendX": 385, "legendY": 557, "direction": "vertical", "symbolType": "M-0.5,-1V1H0.5V-1Z", "symbolSize": 256, "symbolStrokeWidth": 0, "labelExpr": "datum.label == 'NO2' ? 'NO2\u2002\u2002Dépassement de la valeur limite 200 µg/m3/h (en 2010)' : datum.label == 'O3' ? \"O3\u2002\u2002\u2002Dépassement de l'objectif de qualité 120 µg/m3 sur 8 h\" : 'PM10 Dépassement de la valeur limite 50 µg/m3/J (35 dép autorisés)'"}}}},
   {"transform": [{"filter": "datum.h != 'full' && datum.l == 'info'"}], "mark": "rect", "encoding": {"yOffset": {"field": "h", "type": "nominal", "scale": {"domain": ["top","bottom"], "paddingInner": 0, "paddingOuter": 0}}, "color": {"field": "p", "type": "nominal", "scale": {"domain": ["NO2*","O3*","PM10*"], "range": ["#E3001B","#0B8A1F","#3D6BE0"]}, "legend": {"title": "Dépassement du seuil d'information", "orient": "none", "legendX": 125, "legendY": 557, "direction": "vertical", "symbolType": "M-0.5,-1V1H0.5V-1Z", "symbolSize": 256, "symbolStrokeWidth": 0, "labelExpr": "datum.label == 'NO2*' ? 'NO2 200 µg/m3/h' : datum.label == 'O3*' ? 'O3\u2002180 µg/m3/h' : 'PM10 80 µg/m3/J'"}}}}
  ]},
 {"width": 190, "height": 180, "data": {"name": "cells"}, "transform": [{"filter": "datum.m == 'Octobre'"}],
  "encoding": {
   "x": {"field": "d", "type": "ordinal", "scale": {"type": "band", "domain": [1,2,3,4,5,6,7,8,9,10,11,12,13,14,15,16,17,18,19,20,21,22,23,24,25,26,27,28,29,30,31], "paddingInner": 0, "paddingOuter": 0}, "axis": {"orient": "top", "offset": -36, "values": [5,10,15,20,25], "labelAngle": 0, "labelFontSize": 9, "labelPadding": 7, "domain": false, "ticks": false, "tickSize": 0, "grid": false, "title": "Octobre", "titleFontSize": 11, "titleFontWeight": "normal", "titlePadding": 4}},
   "y": {"field": "c", "type": "nominal", "scale": {"type": "band", "domain": ["h1","h2","Brest","Fougères","Lorient","Quimper","Rennes","Saint-Brieuc","Saint-Malo","Vannes"], "paddingInner": 0, "paddingOuter": 0}, "axis": {"orient": "left", "values": ["Brest","Fougères","Lorient","Quimper","Rennes","Saint-Brieuc","Saint-Malo","Vannes"], "bandPosition": 0, "grid": true, "gridDash": [3,2], "gridColor": "#333", "gridWidth": 1, "labels": false, "ticks": false, "domain": false, "title": null, "zindex": 1}}
  },
  "layer": [
   {"transform": [{"filter": "datum.h != 'full' && datum.l == 'limite'"}], "mark": "rect", "encoding": {"yOffset": {"field": "h", "type": "nominal", "scale": {"domain": ["top","bottom"], "paddingInner": 0, "paddingOuter": 0}}, "fill": {"field": "p", "type": "nominal", "scale": {"domain": ["NO2","O3","PM10"], "range": ["#FFA31A","#808000","#3CC8C8"]}, "legend": {"title": "Dépassement des valeurs réglementaires", "orient": "none", "legendX": 385, "legendY": 557, "direction": "vertical", "symbolType": "M-0.5,-1V1H0.5V-1Z", "symbolSize": 256, "symbolStrokeWidth": 0, "labelExpr": "datum.label == 'NO2' ? 'NO2\u2002\u2002Dépassement de la valeur limite 200 µg/m3/h (en 2010)' : datum.label == 'O3' ? \"O3\u2002\u2002\u2002Dépassement de l'objectif de qualité 120 µg/m3 sur 8 h\" : 'PM10 Dépassement de la valeur limite 50 µg/m3/J (35 dép autorisés)'"}}}},
   {"transform": [{"filter": "datum.h != 'full' && datum.l == 'info'"}], "mark": "rect", "encoding": {"yOffset": {"field": "h", "type": "nominal", "scale": {"domain": ["top","bottom"], "paddingInner": 0, "paddingOuter": 0}}, "color": {"field": "p", "type": "nominal", "scale": {"domain": ["NO2*","O3*","PM10*"], "range": ["#E3001B","#0B8A1F","#3D6BE0"]}, "legend": {"title": "Dépassement du seuil d'information", "orient": "none", "legendX": 125, "legendY": 557, "direction": "vertical", "symbolType": "M-0.5,-1V1H0.5V-1Z", "symbolSize": 256, "symbolStrokeWidth": 0, "labelExpr": "datum.label == 'NO2*' ? 'NO2 200 µg/m3/h' : datum.label == 'O3*' ? 'O3\u2002180 µg/m3/h' : 'PM10 80 µg/m3/J'"}}}}
  ]},
 {"width": 183, "height": 180, "data": {"name": "cells"}, "transform": [{"filter": "datum.m == 'Novembre'"}],
  "encoding": {
   "x": {"field": "d", "type": "ordinal", "scale": {"type": "band", "domain": [1,2,3,4,5,6,7,8,9,10,11,12,13,14,15,16,17,18,19,20,21,22,23,24,25,26,27,28,29,30], "paddingInner": 0, "paddingOuter": 0}, "axis": {"orient": "top", "offset": -36, "values": [5,10,15,20,25], "labelAngle": 0, "labelFontSize": 9, "labelPadding": 7, "domain": false, "ticks": false, "tickSize": 0, "grid": false, "title": "Novembre", "titleFontSize": 11, "titleFontWeight": "normal", "titlePadding": 4}},
   "y": {"field": "c", "type": "nominal", "scale": {"type": "band", "domain": ["h1","h2","Brest","Fougères","Lorient","Quimper","Rennes","Saint-Brieuc","Saint-Malo","Vannes"], "paddingInner": 0, "paddingOuter": 0}, "axis": {"orient": "left", "values": ["Brest","Fougères","Lorient","Quimper","Rennes","Saint-Brieuc","Saint-Malo","Vannes"], "bandPosition": 0, "grid": true, "gridDash": [3,2], "gridColor": "#333", "gridWidth": 1, "labels": false, "ticks": false, "domain": false, "title": null, "zindex": 1}}
  },
  "layer": [
   {"transform": [{"filter": "datum.h != 'full' && datum.l == 'limite'"}], "mark": "rect", "encoding": {"yOffset": {"field": "h", "type": "nominal", "scale": {"domain": ["top","bottom"], "paddingInner": 0, "paddingOuter": 0}}, "fill": {"field": "p", "type": "nominal", "scale": {"domain": ["NO2","O3","PM10"], "range": ["#FFA31A","#808000","#3CC8C8"]}, "legend": {"title": "Dépassement des valeurs réglementaires", "orient": "none", "legendX": 385, "legendY": 557, "direction": "vertical", "symbolType": "M-0.5,-1V1H0.5V-1Z", "symbolSize": 256, "symbolStrokeWidth": 0, "labelExpr": "datum.label == 'NO2' ? 'NO2\u2002\u2002Dépassement de la valeur limite 200 µg/m3/h (en 2010)' : datum.label == 'O3' ? \"O3\u2002\u2002\u2002Dépassement de l'objectif de qualité 120 µg/m3 sur 8 h\" : 'PM10 Dépassement de la valeur limite 50 µg/m3/J (35 dép autorisés)'"}}}},
   {"transform": [{"filter": "datum.h != 'full' && datum.l == 'info'"}], "mark": "rect", "encoding": {"yOffset": {"field": "h", "type": "nominal", "scale": {"domain": ["top","bottom"], "paddingInner": 0, "paddingOuter": 0}}, "color": {"field": "p", "type": "nominal", "scale": {"domain": ["NO2*","O3*","PM10*"], "range": ["#E3001B","#0B8A1F","#3D6BE0"]}, "legend": {"title": "Dépassement du seuil d'information", "orient": "none", "legendX": 125, "legendY": 557, "direction": "vertical", "symbolType": "M-0.5,-1V1H0.5V-1Z", "symbolSize": 256, "symbolStrokeWidth": 0, "labelExpr": "datum.label == 'NO2*' ? 'NO2 200 µg/m3/h' : datum.label == 'O3*' ? 'O3\u2002180 µg/m3/h' : 'PM10 80 µg/m3/J'"}}}}
  ]},
 {"width": 185, "height": 180, "data": {"name": "cells"}, "transform": [{"filter": "datum.m == 'Décembre'"}],
  "title": {"text": "Source : Air Breizh", "orient": "bottom", "anchor": "end", "frame": "group", "offset": 93, "fontSize": 13, "fontWeight": "normal", "font": "Liberation Sans", "color": "#222", "dx": 3},
  "encoding": {
   "x": {"field": "d", "type": "ordinal", "scale": {"type": "band", "domain": [1,2,3,4,5,6,7,8,9,10,11,12,13,14,15,16,17,18,19,20,21,22,23,24,25,26,27,28,29,30,31], "paddingInner": 0, "paddingOuter": 0}, "axis": {"orient": "top", "offset": -36, "values": [5,10,15,20,25], "labelAngle": 0, "labelFontSize": 9, "labelPadding": 7, "domain": false, "ticks": false, "tickSize": 0, "grid": false, "title": "Décembre", "titleFontSize": 11, "titleFontWeight": "normal", "titlePadding": 4}},
   "y": {"field": "c", "type": "nominal", "scale": {"type": "band", "domain": ["h1","h2","Brest","Fougères","Lorient","Quimper","Rennes","Saint-Brieuc","Saint-Malo","Vannes"], "paddingInner": 0, "paddingOuter": 0}, "axis": {"orient": "left", "values": ["Brest","Fougères","Lorient","Quimper","Rennes","Saint-Brieuc","Saint-Malo","Vannes"], "bandPosition": 0, "grid": true, "gridDash": [3,2], "gridColor": "#333", "gridWidth": 1, "labels": false, "ticks": false, "domain": false, "title": null, "zindex": 1}}
  },
  "layer": [
   {"transform": [{"filter": "datum.h == 'full'"}], "mark": "rect", "encoding": {"fill": {"field": "p", "type": "nominal", "scale": {"domain": ["NO2","O3","PM10"], "range": ["#FFA31A","#808000","#3CC8C8"]}, "legend": {"title": "Dépassement des valeurs réglementaires", "orient": "none", "legendX": 385, "legendY": 557, "direction": "vertical", "symbolType": "M-0.5,-1V1H0.5V-1Z", "symbolSize": 256, "symbolStrokeWidth": 0, "labelExpr": "datum.label == 'NO2' ? 'NO2\u2002\u2002Dépassement de la valeur limite 200 µg/m3/h (en 2010)' : datum.label == 'O3' ? \"O3\u2002\u2002\u2002Dépassement de l'objectif de qualité 120 µg/m3 sur 8 h\" : 'PM10 Dépassement de la valeur limite 50 µg/m3/J (35 dép autorisés)'"}}}},
   {"transform": [{"filter": "datum.h != 'full' && datum.l == 'limite'"}], "mark": "rect", "encoding": {"yOffset": {"field": "h", "type": "nominal", "scale": {"domain": ["top","bottom"], "paddingInner": 0, "paddingOuter": 0}}, "fill": {"field": "p", "type": "nominal", "scale": {"domain": ["NO2","O3","PM10"], "range": ["#FFA31A","#808000","#3CC8C8"]}, "legend": {"title": "Dépassement des valeurs réglementaires", "orient": "none", "legendX": 385, "legendY": 557, "direction": "vertical", "symbolType": "M-0.5,-1V1H0.5V-1Z", "symbolSize": 256, "symbolStrokeWidth": 0, "labelExpr": "datum.label == 'NO2' ? 'NO2\u2002\u2002Dépassement de la valeur limite 200 µg/m3/h (en 2010)' : datum.label == 'O3' ? \"O3\u2002\u2002\u2002Dépassement de l'objectif de qualité 120 µg/m3 sur 8 h\" : 'PM10 Dépassement de la valeur limite 50 µg/m3/J (35 dép autorisés)'"}}}},
   {"transform": [{"filter": "datum.h != 'full' && datum.l == 'info'"}], "mark": "rect", "encoding": {"yOffset": {"field": "h", "type": "nominal", "scale": {"domain": ["top","bottom"], "paddingInner": 0, "paddingOuter": 0}}, "color": {"field": "p", "type": "nominal", "scale": {"domain": ["NO2*","O3*","PM10*"], "range": ["#E3001B","#0B8A1F","#3D6BE0"]}, "legend": {"title": "Dépassement du seuil d'information", "orient": "none", "legendX": 125, "legendY": 557, "direction": "vertical", "symbolType": "M-0.5,-1V1H0.5V-1Z", "symbolSize": 256, "symbolStrokeWidth": 0, "labelExpr": "datum.label == 'NO2*' ? 'NO2 200 µg/m3/h' : datum.label == 'O3*' ? 'O3\u2002180 µg/m3/h' : 'PM10 80 µg/m3/J'"}}}}
  ]}
], "spacing": 0, "bounds": "flush"}
],
"config": {
 "view": {"stroke": "#444", "strokeWidth": 1},
 "font": "Liberation Sans",
 "axis": {"labelFont": "Liberation Sans", "titleFont": "Liberation Sans", "labelColor": "#222", "titleColor": "#222"},
 "legend": {"titleFont": "Liberation Sans Narrow, Liberation Sans", "labelFont": "Liberation Sans Narrow, Liberation Sans", "titleFontSize": 12, "labelFontSize": 12, "titleFontWeight": "bold", "labelFontWeight": "bold", "rowPadding": 0, "labelOffset": 4, "titlePadding": 7, "labelLimit": 450, "titleLimit": 450, "labelColor": "#111", "titleColor": "#111", "symbolOpacity": 1}
}
}
